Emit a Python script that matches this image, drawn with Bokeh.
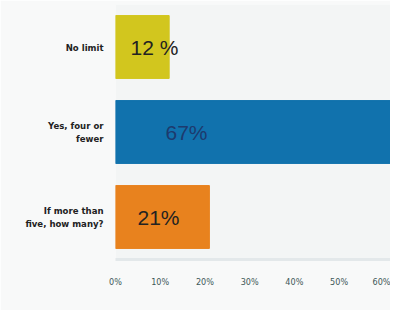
from bokeh.plotting import figure
from bokeh.models import ColumnDataSource, FixedTicker, PrintfTickFormatter, FactorRange, Range1d
from bokeh.core.properties import value
from bokeh.embed import file_html
from bokeh.resources import INLINE

categories = ["No limit", "Yes, four or\nfewer", "If more than\nfive, how many?"]
percent = [12, 67, 21]
value_labels = ["12 %", "67%", "21%"]
bar_colors = ["#d2c61e", "#1172ad", "#e8821e"]
label_colors = ["#222222", "#1d3a6e", "#222222"]
x_ticks = [0, 10, 20, 30, 40, 50, 60]

label_offsets = [15, 50, 22]

src = ColumnDataSource(dict(cat=categories, pct=percent, lab=value_labels,
                            col=bar_colors, lcol=label_colors, zero=[0] * 3,
                            xoff=label_offsets))

p = figure(width=390, height=310, output_backend="svg", toolbar_location=None,
           y_range=FactorRange(factors=list(reversed(categories)), range_padding=0),
           x_range=Range1d(0, 61.5),
           min_border_left=115, min_border_right=0, min_border_top=4, min_border_bottom=51)

p.hbar(y="cat", left="zero", right="pct", height=0.74, color="col", source=src)
p.text(x="zero", y="cat", text="lab", x_offset="xoff", text_color="lcol",
       text_font=value("Liberation Sans"), text_font_size="21px",
       text_align="left", text_baseline="middle", source=src)

p.background_fill_color = "#f3f5f5"
p.border_fill_color = "#f8f9f9"
p.outline_line_color = None
p.xgrid.grid_line_color = None
p.ygrid.grid_line_color = None

p.xaxis.ticker = FixedTicker(ticks=x_ticks)
p.xaxis.formatter = PrintfTickFormatter(format="%d%%")
p.xaxis.axis_line_color = "#e3e8ea"
p.xaxis.axis_line_width = 3
p.xaxis.major_tick_line_color = None
p.xaxis.minor_tick_line_color = None
p.xaxis.major_label_standoff = 11
p.xaxis.major_label_text_font = "DejaVu Sans Condensed"
p.xaxis.major_label_text_font_size = "9px"
p.xaxis.major_label_text_color = "#3d5858"

p.yaxis.axis_line_color = None
p.yaxis.major_tick_line_color = None
p.yaxis.minor_tick_line_color = None
p.yaxis.major_label_standoff = 6
p.yaxis.major_label_text_font = "DejaVu Sans Condensed"
p.yaxis.major_label_text_font_style = "bold"
p.yaxis.major_label_text_font_size = "9.5px"
p.yaxis.major_label_text_color = "#222222"
p.yaxis.major_label_text_align = "right"

open("out.html", "w").write(file_html(p, INLINE))
